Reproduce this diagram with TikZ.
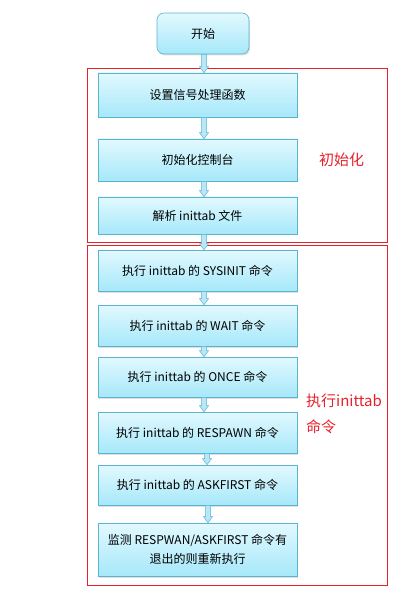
\documentclass[tikz,border=0pt]{standalone}
\usepackage{fontspec}
\setmainfont{Noto Sans CJK SC}
\usetikzlibrary{shadows,calc}
\definecolor{boxtop}{HTML}{E2F9FE}
\definecolor{boxbot}{HTML}{A6E8FA}
\definecolor{boxline}{HTML}{5AB4CE}
\definecolor{arrowfill}{HTML}{B8E8F6}
\definecolor{framered}{HTML}{E8202A}
% fat arrow from the bottom of #1 to the top of #2, at x = #3
\newcommand\blockarrow[3]{%
 \draw[arrowbody] let \p1=(#1.south), \p2=(#2.north) in
  ({#3pt-2.5pt},\y1)--({#3pt-2.5pt},{\y2+6pt})--({#3pt-4.5pt},{\y2+6pt})--({#3pt},\y2)
  --({#3pt+4.5pt},{\y2+6pt})--({#3pt+2.5pt},{\y2+6pt})--({#3pt+2.5pt},\y1)--cycle;}
\begin{document}
\begin{tikzpicture}[x=1pt,y=-1pt,
 stepbox/.style={draw=boxline,line width=0.6pt,top color=boxtop,bottom color=boxbot,
  minimum width=199pt,inner sep=0pt,align=center,font=\fontsize{12}{19}\selectfont,
  drop shadow={opacity=0.25,shadow xshift=1pt,shadow yshift=-1.5pt}},
 startbox/.style={stepbox,minimum width=92pt,minimum height=41pt,rounded corners=7pt},
 arrowbody/.style={draw=boxline,line width=0.5pt,fill=arrowfill},
 redframe/.style={draw=framered,line width=0.8pt},
 redlabel/.style={text=framered,anchor=west,align=left,inner sep=0pt,font=\fontsize{15}{26}\selectfont}]
 \useasboundingbox (0,0) rectangle (419,593);
 \node[startbox] (start) at (203,33.5) {开始};
 \draw[redframe] (87,68) rectangle (387,242);
 \draw[redframe] (87,245) rectangle (387,585);
 \node[stepbox,minimum height=44pt] (signal) at (197.5,95) {设置信号处理函数};
 \node[stepbox,minimum height=42pt] (console) at (197.5,160) {初始化控制台};
 \node[stepbox,minimum height=37pt] (parse) at (197.5,215.5) {解析 inittab 文件};
 \node[stepbox,minimum height=41pt] (sysinit) at (197.5,270.5) {执行 inittab 的 SYSINIT 命令};
 \node[stepbox,minimum height=41pt] (wait) at (197.5,325.5) {执行 inittab 的 WAIT 命令};
 \node[stepbox,minimum height=40pt] (once) at (197.5,377) {执行 inittab 的 ONCE 命令};
 \node[stepbox,minimum height=41pt] (respawn) at (197.5,432.5) {执行 inittab 的 RESPAWN 命令};
 \node[stepbox,minimum height=40pt] (askfirst) at (197.5,485) {执行 inittab 的 ASKFIRST 命令};
 \node[stepbox,minimum height=53pt] (watch) at (197.5,549.5) {监测 RESPWAN/ASKFIRST 命令有\\退出的则重新执行};
 \node[redlabel] (initlbl) at (319,160) {初始化};
 \node[redlabel] (runlbl) at (306,414) {执行inittab\\命令};
 \blockarrow{start}{signal}{204}
 \blockarrow{signal}{console}{204}
 \blockarrow{console}{parse}{204}
 \blockarrow{parse}{sysinit}{204}
 \blockarrow{sysinit}{wait}{204}
 \blockarrow{wait}{once}{204}
 \blockarrow{once}{respawn}{204}
 \blockarrow{respawn}{askfirst}{207}
 \blockarrow{askfirst}{watch}{208}
\end{tikzpicture}
\end{document}
